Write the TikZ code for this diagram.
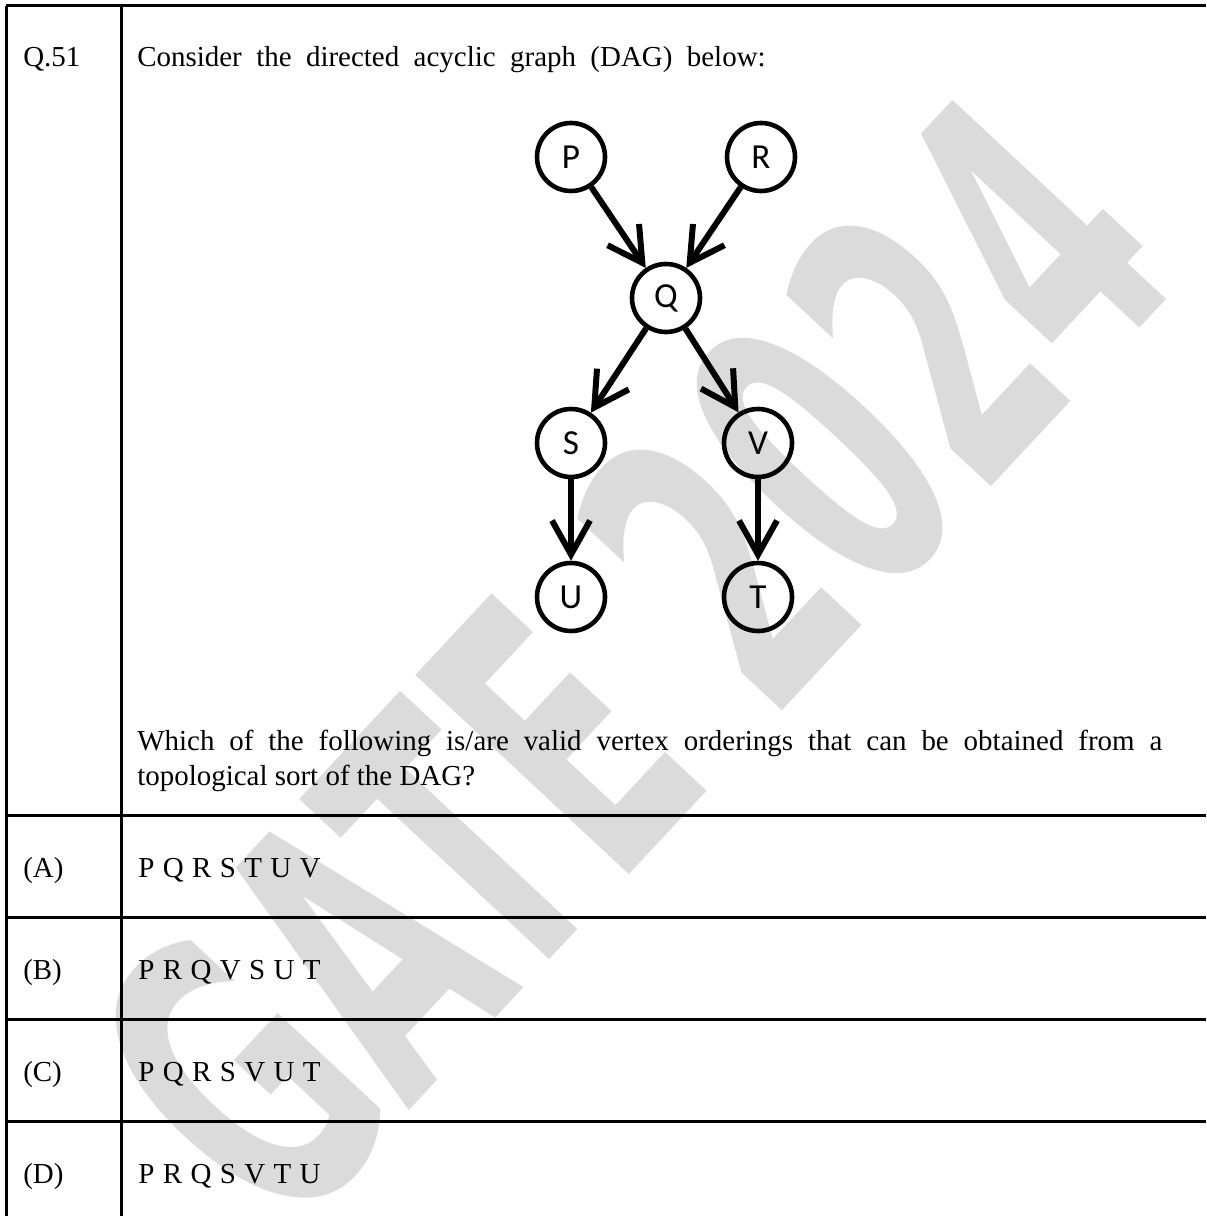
\documentclass[tikz,border=0pt]{standalone}
\usepackage{fontspec}
\setmainfont{Liberation Serif}
\newfontfamily\dagfont{Carlito}
\newfontfamily\markfont{DejaVu Sans}
\usetikzlibrary{arrows.meta}

\begin{document}
\begin{tikzpicture}[x=0.25mm,y=-0.25mm]
        \tikzstyle{vertex}=[draw,circle,line width=1.15mm,minimum size=17mm,inner sep=0pt,font=\dagfont\fontsize{25}{25}\selectfont]
        \tikzstyle{edge}=[line width=1.5mm,-{Straight Barb[length=8.5mm,width=9.5mm]}]
        \tikzstyle{rule}=[line width=0.75mm]
        \tikzstyle{txt}=[inner sep=0pt,anchor=base west,font=\fontsize{20.6}{25.6}\selectfont]
        \useasboundingbox (0,0) rectangle (1206,1216);
        % watermark
        \node[text=black!14,rotate=47,inner sep=0pt,font=\markfont\bfseries\fontsize{285}{285}\selectfont] (mark) at (630,660) {\scalebox{0.55}[1]{GATE 2024}};
        % table
        \draw[rule] (6,6) -- (1206,6);
        \draw[rule] (6,6) -- (6,1216);
        \draw[rule] (121,6) -- (121,1216);
        \foreach \y in {815,917,1019,1121} \draw[rule] (6,\y) -- (1206,\y);
        % question
        \node[txt] (qno) at (23,67) {Q.51};
        \node[txt] (stem) at (137,67) {\spaceskip=3.6mm Consider the directed acyclic graph (DAG) below:};
        \node[txt,text width=256.25mm,align=justify] (ask) at (137,750) {Which of the following is/are valid vertex orderings that can be obtained from a\linebreak topological sort of the DAG?};
        % options
        \foreach \lab/\seq [count=\i] in {A/P Q R S T U V, B/P R Q V S U T, C/P Q R S V U T, D/P R Q S V T U} {
            \node[txt] (opt\lab) at (23,775+102*\i) {(\lab)};
            \node[txt] (seq\lab) at (138,775+102*\i) {\spaceskip=2.1mm \seq};
        }
        % the DAG
        \node[vertex] (P) at (571,157) {P};
        \node[vertex] (R) at (761,157) {R};
        \node[vertex] (Q) at (666,298) {Q};
        \node[vertex] (S) at (571,443) {S};
        \node[vertex] (V) at (758,443) {V};
        \node[vertex] (U) at (571,597) {U};
        \node[vertex] (T) at (758,597) {T};
        \draw[edge] (P) -- (Q);
        \draw[edge] (R) -- (Q);
        \draw[edge] (Q) -- (S);
        \draw[edge] (Q) -- (V);
        \draw[edge] (S) -- (U);
        \draw[edge] (V) -- (T);
\end{tikzpicture}
\end{document}
